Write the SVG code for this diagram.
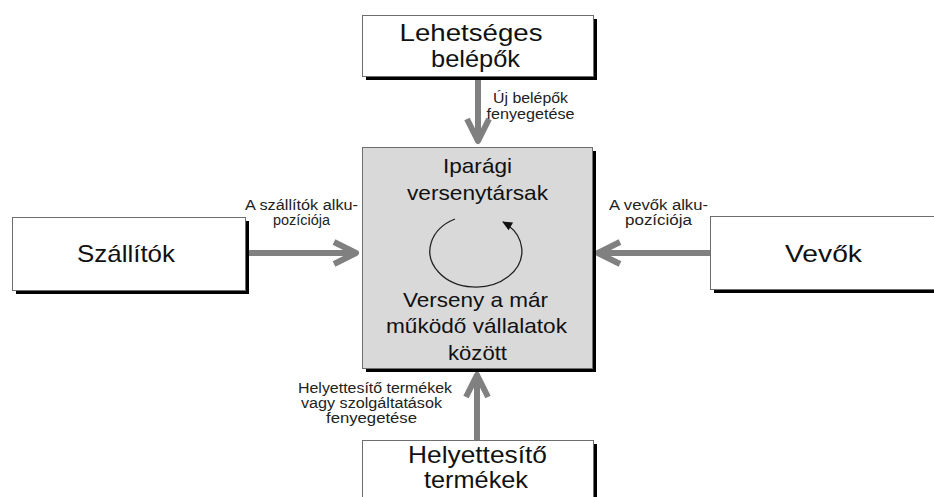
<svg xmlns="http://www.w3.org/2000/svg" width="934" height="497" viewBox="0 0 934 497">
<style>
.box{fill:#ffffff;stroke:#6e6e6e;stroke-width:1}
.center{fill:#d9d9d9;stroke:#6e6e6e;stroke-width:1}
.shadow{fill:#000000}
.big{font-family:"Liberation Sans",Arial,sans-serif;font-size:24px;fill:#111111;text-anchor:middle}
.mid{font-family:"Liberation Sans",Arial,sans-serif;font-size:21px;fill:#111111;text-anchor:middle}
.small{font-family:"Liberation Sans",Arial,sans-serif;font-size:14px;fill:#222222;text-anchor:middle}
.arrow{stroke:#808080;stroke-width:6;fill:none;stroke-linejoin:round}
</style>
<defs>
<marker id="chev" markerUnits="userSpaceOnUse" viewBox="-30 -16 36 32" markerWidth="36" markerHeight="32" refX="0" refY="0" orient="auto">
<path d="M-23,-11 L-1,0 L-23,11" fill="none" stroke="#808080" stroke-width="6" stroke-linejoin="round" stroke-linecap="butt"/>
</marker>
<marker id="tri" markerUnits="userSpaceOnUse" viewBox="-10 -5 12 10" markerWidth="12" markerHeight="10" refX="0" refY="0" orient="auto">
<path d="M-9,-4.5 L1,0 L-9,4.5 Z" fill="#111111"/>
</marker>
</defs>

<g id="connectors">
<line class="arrow" x1="478" y1="80" x2="478" y2="142" marker-end="url(#chev)"/>
<line class="arrow" x1="249" y1="253" x2="357" y2="253" marker-end="url(#chev)"/>
<line class="arrow" x1="710" y1="253" x2="597" y2="253" marker-end="url(#chev)"/>
<line class="arrow" x1="477" y1="440" x2="477" y2="374" marker-end="url(#chev)"/>
</g>

<g id="entrants">
<rect class="shadow" x="366" y="19" width="231" height="61"/>
<rect class="box" x="362.5" y="15.5" width="231" height="61"/>
<text class="big" x="471" y="41" textLength="143" lengthAdjust="spacingAndGlyphs">Lehetséges</text>
<text class="big" x="475.5" y="67" textLength="89" lengthAdjust="spacingAndGlyphs">belépők</text>
</g>

<g id="rivals">
<rect class="shadow" x="366" y="151" width="230" height="221"/>
<rect class="center" x="362.5" y="147.5" width="230" height="221"/>
<text class="mid" x="477.5" y="173" textLength="69" lengthAdjust="spacingAndGlyphs">Iparági</text>
<text class="mid" x="477.5" y="200" textLength="141" lengthAdjust="spacingAndGlyphs">versenytársak</text>
<path d="M455,219 A46,36 0 1,0 503,222" fill="none" stroke="#222222" stroke-width="1.3" marker-end="url(#tri)"/>
<text class="mid" x="475.5" y="307" textLength="145" lengthAdjust="spacingAndGlyphs">Verseny a már</text>
<text class="mid" x="476.5" y="333" textLength="181" lengthAdjust="spacingAndGlyphs">működő vállalatok</text>
<text class="mid" x="477.5" y="360" textLength="59" lengthAdjust="spacingAndGlyphs">között</text>
</g>

<g id="suppliers">
<rect class="shadow" x="16" y="221" width="233" height="73"/>
<rect class="box" x="12.5" y="217.5" width="233" height="73"/>
<text class="big" x="126" y="262" textLength="98" lengthAdjust="spacingAndGlyphs">Szállítók</text>
</g>

<g id="buyers">
<rect class="shadow" x="714" y="220" width="230" height="73"/>
<rect class="box" x="710.5" y="216.5" width="230" height="73"/>
<text class="big" x="823.5" y="262" textLength="77" lengthAdjust="spacingAndGlyphs">Vevők</text>
</g>

<g id="substitutes">
<rect class="shadow" x="366" y="444" width="231" height="70"/>
<rect class="box" x="362.5" y="440.5" width="231" height="70"/>
<text class="big" x="477.5" y="463" textLength="139" lengthAdjust="spacingAndGlyphs">Helyettesítő</text>
<text class="big" x="476" y="488" textLength="104" lengthAdjust="spacingAndGlyphs">termékek</text>
</g>

<g id="labels">
<text class="small" x="530.5" y="103" textLength="75" lengthAdjust="spacingAndGlyphs">Új belépők</text>
<text class="small" x="530.5" y="119" textLength="88" lengthAdjust="spacingAndGlyphs">fenyegetése</text>
<text class="small" x="301.5" y="210" textLength="113" lengthAdjust="spacingAndGlyphs">A szállítók alku-</text>
<text class="small" x="301.5" y="225" textLength="57" lengthAdjust="spacingAndGlyphs">pozíciója</text>
<text class="small" x="658.5" y="210" textLength="99" lengthAdjust="spacingAndGlyphs">A vevők alku-</text>
<text class="small" x="658.5" y="225" textLength="67" lengthAdjust="spacingAndGlyphs">pozíciója</text>
<text class="small" x="375" y="393" textLength="154" lengthAdjust="spacingAndGlyphs">Helyettesítő termékek</text>
<text class="small" x="371.5" y="408" textLength="141" lengthAdjust="spacingAndGlyphs">vagy szolgáltatások</text>
<text class="small" x="371.5" y="423" textLength="91" lengthAdjust="spacingAndGlyphs">fenyegetése</text>
</g>
</svg>
